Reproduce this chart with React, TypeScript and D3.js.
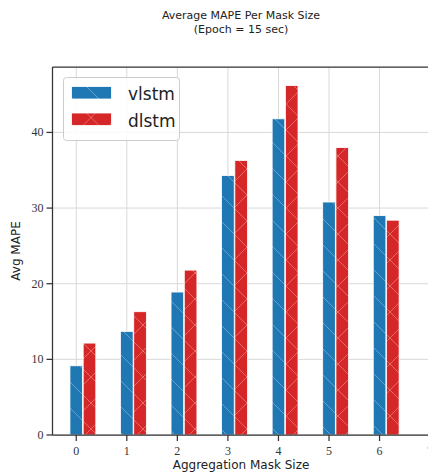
import React from 'react';
import * as d3 from 'd3';

const maskSizes = [0, 1, 2, 3, 4, 5, 6];
const vlstmValues = [9.15, 13.7, 18.9, 34.3, 41.8, 30.8, 29.0];
const dlstmValues = [12.15, 16.3, 21.8, 36.3, 46.2, 38.0, 28.4];
const yTicks = [0, 10, 20, 30, 40];
const xTicks = [0, 1, 2, 3, 4, 5, 6, 7];
const seriesNames = ['vlstm', 'dlstm'];

const width = 428;
const height = 475;
const left = 52.5;
const top = 67;
const bottom = 435;

const App = () => {
  const x = d3.scaleLinear().domain([-0.47, 7]).range([left, left + 7.47 * 50.55]);
  const y = d3.scaleLinear().domain([0, 48.65]).range([bottom, top]);
  const barW = x(0.25) - x(0);
  const offset = x(0.262) - x(0);
  const serif = "'Liberation Serif', 'DejaVu Serif', serif";
  const sans = "'DejaVu Sans', 'Open Sans', sans-serif";
  const colors = ['#1f77b4', '#d62728'];

  return (
    <div style={{ position: 'fixed', left: 0, top: 0 }}>
      <svg width={width} height={height} style={{ display: 'block', background: 'white' }}>
        <defs>
          <pattern id="hatchBack" patternUnits="userSpaceOnUse" width={26} height={26}>
            <path d="M-2,-2 L28,28 M-15,11 L15,41 M11,-15 L41,15" stroke="white" strokeOpacity={0.38} strokeWidth={0.8} />
          </pattern>
          <pattern id="hatchX" patternUnits="userSpaceOnUse" width={26} height={26}>
            <path d="M-2,-2 L28,28 M-15,11 L15,41 M11,-15 L41,15 M28,-2 L-2,28 M41,11 L11,41 M15,-15 L-15,15" stroke="white" strokeOpacity={0.38} strokeWidth={0.8} />
          </pattern>
        </defs>

        <text x={241} y={19} textAnchor="middle" fontFamily={sans} fontSize={11} fill="#222">Average MAPE Per Mask Size</text>
        <text x={241} y={33} textAnchor="middle" fontFamily={sans} fontSize={11} fill="#222">(Epoch = 15 sec)</text>

        {/* grid */}
        {xTicks.map(t => (
          <line key={'gx' + t} x1={x(t)} x2={x(t)} y1={top} y2={bottom} stroke="#d9d9d9" strokeWidth={1} />
        ))}
        {yTicks.map(t => (
          <line key={'gy' + t} x1={left} x2={width} y1={y(t)} y2={y(t)} stroke="#d9d9d9" strokeWidth={1} />
        ))}

        {/* bars */}
        {maskSizes.map((m, i) => (
          <g key={'b' + m}>
            <rect x={x(m) - barW / 2} y={y(vlstmValues[i])} width={barW} height={y(0) - y(vlstmValues[i])} fill={colors[0]} stroke="white" strokeWidth={0.8} />
            <rect x={x(m) - barW / 2} y={y(vlstmValues[i])} width={barW} height={y(0) - y(vlstmValues[i])} fill="url(#hatchBack)" />
            <rect x={x(m) - barW / 2 + offset} y={y(dlstmValues[i])} width={barW} height={y(0) - y(dlstmValues[i])} fill={colors[1]} stroke="white" strokeWidth={0.8} />
            <rect x={x(m) - barW / 2 + offset} y={y(dlstmValues[i])} width={barW} height={y(0) - y(dlstmValues[i])} fill="url(#hatchX)" />
          </g>
        ))}

        {/* spines */}
        <line x1={left} x2={left} y1={top} y2={bottom} stroke="#333" strokeWidth={1.25} />
        <line x1={left} x2={width} y1={bottom} y2={bottom} stroke="#333" strokeWidth={1.25} />
        <line x1={left} x2={width} y1={top} y2={top} stroke="#333" strokeWidth={1.25} />

        {/* y ticks */}
        {yTicks.map(t => (
          <g key={'yt' + t}>
            <line x1={left - 6} x2={left} y1={y(t)} y2={y(t)} stroke="#333" strokeWidth={1.25} />
            <text x={left - 9} y={y(t) + 4} textAnchor="end" fontFamily={serif} fontSize={12} fill="#333">{t}</text>
          </g>
        ))}
        {/* x ticks */}
        {xTicks.map(t => (
          <g key={'xt' + t}>
            <line x1={x(t)} x2={x(t)} y1={bottom} y2={bottom + 6} stroke="#333" strokeWidth={1.25} />
            <text x={x(t)} y={bottom + 20} textAnchor="middle" fontFamily={serif} fontSize={12} fill="#333">{t}</text>
          </g>
        ))}

        <text x={241} y={469} textAnchor="middle" fontFamily={sans} fontSize={12} fill="#222">Aggregation Mask Size</text>
        <text transform={`translate(20,${(top + bottom) / 2}) rotate(-90)`} textAnchor="middle" fontFamily={sans} fontSize={12} fill="#222">Avg MAPE</text>

        {/* legend */}
        <rect x={63.5} y={77.5} width={116} height={63} rx={3} fill="white" fillOpacity={0.85} stroke="#cccccc" strokeWidth={1} />
        {seriesNames.map((s, i) => (
          <g key={s} transform={`translate(0,${i * 26.5})`}>
            <rect x={71.5} y={86.5} width={40} height={12.5} fill={colors[i]} stroke="white" strokeWidth={0.8} />
            <rect x={71.5} y={86.5} width={40} height={12.5} fill={i === 0 ? 'url(#hatchBack)' : 'url(#hatchX)'} />
            <text x={128} y={100} fontFamily={sans} fontSize={17} fill="#222">{s}</text>
          </g>
        ))}
      </svg>
    </div>
  );
};

export default App;
